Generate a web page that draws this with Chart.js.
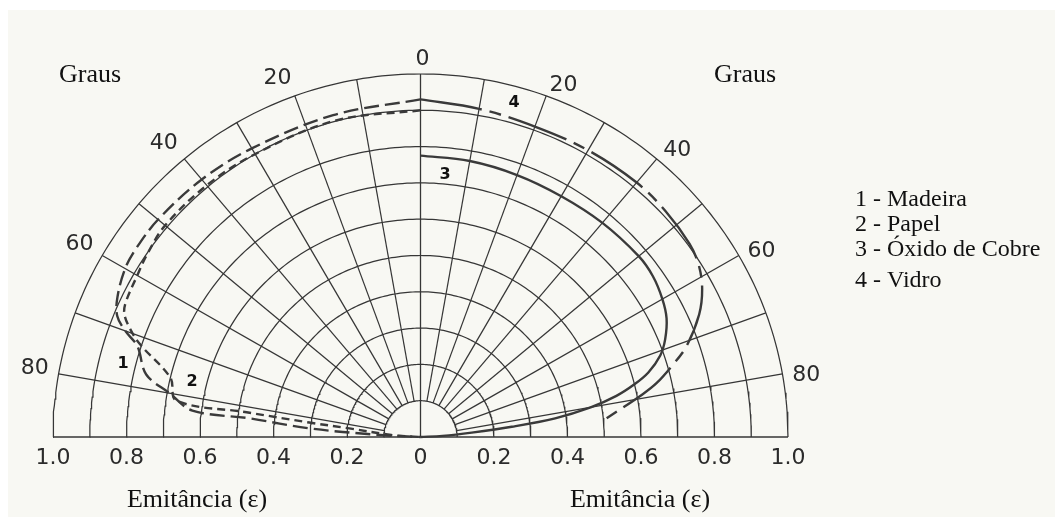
<!DOCTYPE html>
<html>
<head>
<meta charset="utf-8">
<script src="https://cdn.jsdelivr.net/npm/chart.js@4.4.1/dist/chart.umd.min.js"></script>
<style>
  html, body { margin: 0; padding: 0; background: #fff; }
  #wrap { width: 1055px; height: 521px; }
</style>
</head>
<body>
<div id="wrap"><canvas id="emitChart"></canvas></div>
<script>
// grade polar
const gridRadii = [0.1, 0.2, 0.3, 0.4, 0.5, 0.6, 0.7, 0.8, 0.9, 1.0];
const spokeAngles = [10, 20, 30, 40, 50, 60, 70, 80];
const angleLabels = [0, 20, 40, 60, 80];
const emitTicks = [-1.0, -0.8, -0.6, -0.4, -0.2, 0, 0.2, 0.4, 0.6, 0.8, 1.0];
const emitLabels = ["1.0", "0.8", "0.6", "0.4", "0.2", "0", "0.2", "0.4", "0.6", "0.8", "1.0"];

// curvas: angulo (graus, a partir da normal) e emitancia
const madeiraAng = [0, 15, 30, 40, 50, 56, 60, 65, 68, 70, 72, 77, 80, 83.3, 83.7, 85.5, 87, 90];
const madeiraEps = [0.93, 0.918, 0.918, 0.926, 0.932, 0.932, 0.928, 0.91, 0.89, 0.855, 0.81, 0.766, 0.693, 0.625, 0.468, 0.303, 0.12, 0];

const papelAng = [0, 15, 30, 40, 50, 56, 60, 65, 67, 69, 71.4, 76.5, 81.4, 81.8, 82.5, 83, 86, 90];
const papelEps = [0.90, 0.902, 0.9, 0.905, 0.907, 0.898, 0.89, 0.884, 0.876, 0.85, 0.807, 0.70, 0.672, 0.478, 0.305, 0.195, 0.08, 0];

const cobreAng = [0, 10, 20, 30, 40, 50, 55, 60, 64, 68, 71, 74, 76, 78, 80, 82, 83.5, 85, 87, 90];
const cobreEps = [0.775, 0.772, 0.768, 0.766, 0.77, 0.775, 0.772, 0.76, 0.745, 0.718, 0.69, 0.645, 0.60, 0.545, 0.47, 0.37, 0.25, 0.14, 0.06, 0];

const vidroAng = [0, 10, 20, 30, 40, 47, 54, 58, 62, 66, 71, 74, 77, 79, 84.2];
const vidroEps = [0.93, 0.918, 0.91, 0.912, 0.915, 0.912, 0.905, 0.893, 0.868, 0.83, 0.765, 0.712, 0.659, 0.615, 0.509];

const legendItems = ["1 - Madeira", "2 - Papel", "3 - Óxido de Cobre", "4 - Vidro"];

const INK = "#363636";
const rad = d => d * Math.PI / 180;
// side = -1 lado esquerdo, +1 lado direito
const toXY = (ang, r, side) => ({ x: side * r * Math.sin(rad(ang)), y: r * Math.cos(rad(ang)) });
const curve = (angs, vals, side) => angs.map((a, i) => toXY(a, vals[i], side));

const gridSets = [];
gridRadii.forEach(r => {
  const pts = [];
  for (let a = -90; a <= 90; a += 1) pts.push(toXY(Math.abs(a), r, Math.sign(a) || 1));
  gridSets.push({ data: pts, borderColor: INK, borderWidth: 1.25, tension: 0, order: 5 });
});
spokeAngles.forEach(a => {
  [-1, 1].forEach(s => {
    gridSets.push({ data: [toXY(a, gridRadii[0], s), toXY(a, 1, s)], borderColor: INK, borderWidth: 1.25, order: 5 });
  });
});
gridSets.push({ data: [toXY(0, 0, 1), toXY(0, 1, 1)], borderColor: INK, borderWidth: 1.3, order: 5 });
gridSets.push({ data: [toXY(90, 1, -1), toXY(90, 1, 1)], borderColor: INK, borderWidth: 1.7, order: 5 });

const curveSets = [
  { data: curve(madeiraAng, madeiraEps, -1), borderDash: [15, 6] },
  { data: curve(papelAng, papelEps, -1), borderDash: [8, 5] },
  { data: curve(cobreAng, cobreEps, 1), borderDash: [] },
  { data: curve(vidroAng, vidroEps, 1), borderDash: [62, 8, 12, 8] }
].map(d => Object.assign(d, { borderColor: "#3a3a3a", borderWidth: 2.4, tension: 0.35, order: 1 }));

const paperBg = {
  id: "paperBg",
  beforeDraw(chart) {
    const c = chart.ctx;
    c.save();
    c.fillStyle = "#ffffff";
    c.fillRect(0, 0, chart.width, chart.height);
    c.fillStyle = "#f8f8f3";
    c.fillRect(8, 10, chart.width - 8, chart.height - 14);
    c.restore();
  }
};

const texts = {
  id: "texts",
  afterDraw(chart) {
    const c = chart.ctx;
    const xs = chart.scales.x, ys = chart.scales.y;
    c.save();
    c.fillStyle = "#2b2b2b";
    c.font = "22px 'DejaVu Sans'";
    c.textBaseline = "middle";
    angleLabels.forEach(a => {
      [-1, 1].forEach(s => {
        if (a === 0 && s < 0) return;
        const p = toXY(a, 1, s);
        const px = xs.getPixelForValue(p.x), py = ys.getPixelForValue(p.y);
        const sn = Math.sin(rad(a)), cs = Math.cos(rad(a));
        if (a === 0) {
          c.textAlign = "center";
          c.fillText("0", px + 2, py - 15);
        } else if (s > 0) {
          c.textAlign = "left";
          c.fillText(String(a), px + sn * 10, py - cs * 16 + 4);
        } else {
          c.textAlign = "right";
          c.fillText(String(a), px - sn * 10, py - cs * 16 - 3);
        }
      });
    });
    c.textAlign = "center";
    emitTicks.forEach((v, i) => c.fillText(emitLabels[i], xs.getPixelForValue(v), 458));

    c.fillStyle = "#111";
    c.font = "26px 'Liberation Serif'";
    c.fillText("Graus", 90, 75);
    c.fillText("Graus", 745, 75);
    c.fillText("Emitância (ε)", 197, 500);
    c.fillText("Emitância (ε)", 640, 500);

    c.textAlign = "left";
    c.font = "24px 'Liberation Serif'";
    const ly = [200, 225, 250, 281];
    legendItems.forEach((t, i) => c.fillText(t, 855, ly[i]));

    c.textAlign = "center";
    c.font = "bold 16px 'DejaVu Sans'";
    c.fillText("1", 123, 364);
    c.fillText("2", 192, 382);
    c.fillText("3", 445, 175);
    c.fillText("4", 514, 103);
    c.restore();
  }
};

new Chart(document.getElementById("emitChart"), {
  type: "scatter",
  data: { datasets: curveSets.concat(gridSets) },
  options: {
    responsive: true,
    maintainAspectRatio: false,
    animation: false,
    devicePixelRatio: 1,
    layout: { autoPadding: false, padding: { left: 53, right: 267, top: 74, bottom: 84 } },
    elements: { point: { radius: 0, hoverRadius: 0 }, line: { fill: false } },
    datasets: { scatter: { showLine: true, clip: false } },
    scales: {
      x: { type: "linear", min: -1, max: 1, display: false },
      y: { type: "linear", min: 0, max: 1, display: false }
    },
    plugins: { legend: { display: false }, tooltip: { enabled: false } }
  },
  plugins: [paperBg, texts]
});
</script>
</body>
</html>
